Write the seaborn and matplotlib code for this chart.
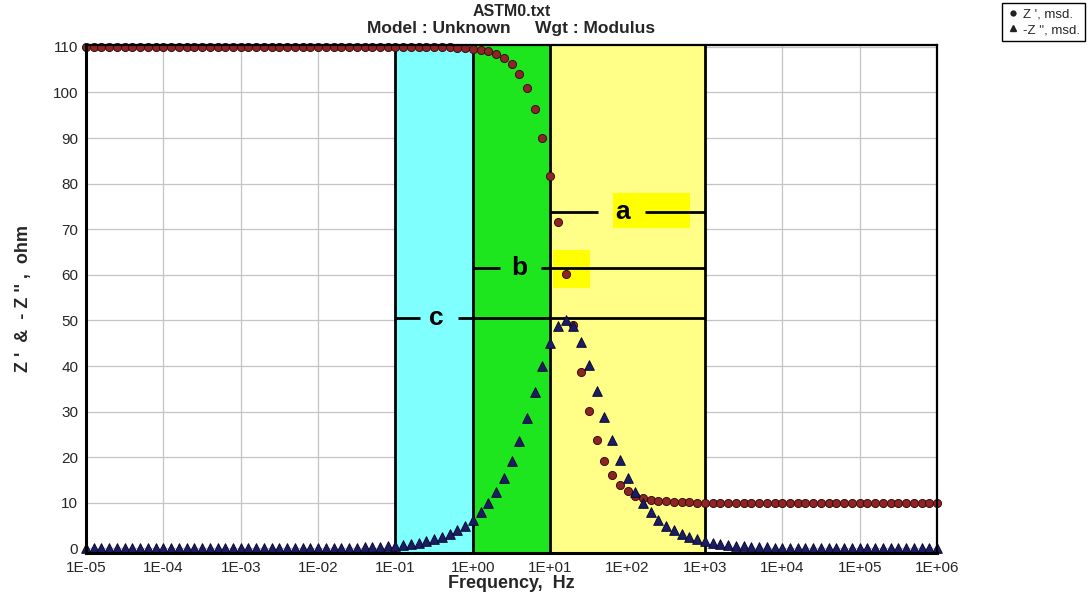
import numpy as np
import pandas as pd
import matplotlib
matplotlib.use('Agg')
import matplotlib.pyplot as plt
from matplotlib.lines import Line2D
from matplotlib.patches import Rectangle
import seaborn as sns

# --- data: 10 points per decade, 1E-05 .. 1E+06 Hz ---
LOG_FREQ = [
    -5.0, -4.9, -4.8, -4.7, -4.6, -4.5, -4.4, -4.3, -4.2, -4.1,
    -4.0, -3.9, -3.8, -3.7, -3.6, -3.5, -3.4, -3.3, -3.2, -3.1,
    -3.0, -2.9, -2.8, -2.7, -2.6, -2.5, -2.4, -2.3, -2.2, -2.1,
    -2.0, -1.9, -1.8, -1.7, -1.6, -1.5, -1.4, -1.3, -1.2, -1.1,
    -1.0, -0.9, -0.8, -0.7, -0.6, -0.5, -0.4, -0.3, -0.2, -0.1,
    0.0, 0.1, 0.2, 0.3, 0.4, 0.5, 0.6, 0.7, 0.8, 0.9,
    1.0, 1.1, 1.2, 1.3, 1.4, 1.5, 1.6, 1.7, 1.8, 1.9,
    2.0, 2.1, 2.2, 2.3, 2.4, 2.5, 2.6, 2.7, 2.8, 2.9,
    3.0, 3.1, 3.2, 3.3, 3.4, 3.5, 3.6, 3.7, 3.8, 3.9,
    4.0, 4.1, 4.2, 4.3, 4.4, 4.5, 4.6, 4.7, 4.8, 4.9,
    5.0, 5.1, 5.2, 5.3, 5.4, 5.5, 5.6, 5.7, 5.8, 5.9,
    6.0,
]
Z_REAL = [
    110.0, 110.0, 110.0, 110.0, 110.0, 110.0, 110.0, 110.0, 110.0, 110.0,
    110.0, 110.0, 110.0, 110.0, 110.0, 110.0, 110.0, 110.0, 110.0, 110.0,
    110.0, 110.0, 110.0, 110.0, 110.0, 110.0, 110.0, 110.0, 110.0, 110.0,
    110.0, 110.0, 110.0, 110.0, 110.0, 110.0, 110.0, 110.0, 110.0, 110.0,
    110.0, 110.0, 110.0, 110.0, 110.0, 110.0, 109.9, 109.9, 109.8, 109.8,
    109.6, 109.4, 109.0, 108.5, 107.6, 106.2, 104.1, 101.0, 96.4, 90.1,
    81.7, 71.5, 60.2, 48.9, 38.7, 30.2, 23.8, 19.2, 16.0, 13.9,
    12.5, 11.6, 11.0, 10.6, 10.4, 10.3, 10.2, 10.1, 10.1, 10.0,
    10.0, 10.0, 10.0, 10.0, 10.0, 10.0, 10.0, 10.0, 10.0, 10.0,
    10.0, 10.0, 10.0, 10.0, 10.0, 10.0, 10.0, 10.0, 10.0, 10.0,
    10.0, 10.0, 10.0, 10.0, 10.0, 10.0, 10.0, 10.0, 10.0, 10.0,
    10.0,
]
Z_IMAG_NEG = [
    0.0, 0.0, 0.0, 0.0, 0.0, 0.0, 0.0, 0.0, 0.0, 0.0,
    0.0, 0.0, 0.0, 0.0, 0.0, 0.0, 0.0, 0.0, 0.0, 0.0,
    0.0, 0.0, 0.0, 0.0, 0.0, 0.0, 0.0, 0.0, 0.0, 0.0,
    0.1, 0.1, 0.1, 0.1, 0.2, 0.2, 0.3, 0.3, 0.4, 0.5,
    0.6, 0.8, 1.0, 1.3, 1.6, 2.0, 2.5, 3.1, 4.0, 5.0,
    6.3, 7.9, 9.9, 12.3, 15.4, 19.1, 23.5, 28.7, 34.3, 40.0,
    45.1, 48.7, 50.0, 48.8, 45.2, 40.2, 34.5, 28.9, 23.7, 19.3,
    15.5, 12.4, 9.9, 7.9, 6.3, 5.0, 4.0, 3.2, 2.5, 2.0,
    1.6, 1.3, 1.0, 0.8, 0.6, 0.5, 0.4, 0.3, 0.3, 0.2,
    0.2, 0.1, 0.1, 0.1, 0.0, 0.0, 0.0, 0.0, 0.0, 0.0,
    0.0, 0.0, 0.0, 0.0, 0.0, 0.0, 0.0, 0.0, 0.0, 0.0,
    0.0,
]
SERIES_NAMES = ["Z ', msd.", "-Z '', msd."]

# shaded frequency bands (Hz)
BAND_EDGES = [0.1, 1.0, 10.0, 1000.0]
BAND_COLORS = ['#80FFFF', '#1EE61E', '#FFFF88']

# a / b / c spans: line from start to end at a level, broken around the letter
SPAN_LABELS = ['a', 'b', 'c']
SPAN_START = [10.0, 1.0, 0.1]
SPAN_END = [1000.0, 1000.0, 1000.0]
SPAN_LEVEL = [73.8, 61.5, 50.6]
SPAN_TEXT_AT = [85.0, 3.95, 0.34]
SPAN_GAP = [(41.5, 168.0), (2.25, 7.6), (0.207, 0.644)]

# bright yellow patches inside the yellow band: (f0, f1, y0, y1)
PATCHES = [(64.9, 643.0, 70.3, 77.9), (10.9, 32.7, 57.1, 65.5)]

X_TICKS = [1e-5, 1e-4, 1e-3, 1e-2, 1e-1, 1e0, 1e1, 1e2, 1e3, 1e4, 1e5, 1e6]
X_TICK_LABELS = ['1E-05', '1E-04', '1E-03', '1E-02', '1E-01', '1E+00',
                 '1E+01', '1E+02', '1E+03', '1E+04', '1E+05', '1E+06']
Y_TICKS = [0, 10, 20, 30, 40, 50, 60, 70, 80, 90, 100, 110]

TITLE_FILE = 'ASTM0.txt'
TITLE_MODEL = 'Model : Unknown     Wgt : Modulus'

# --- style ---
sns.set_style('white')
plt.rcParams['font.family'] = ['Liberation Sans', 'DejaVu Sans']

freq = 10 ** np.array(LOG_FREQ)
df = pd.DataFrame({
    'freq': np.concatenate([freq, freq]),
    'ohm': Z_REAL + Z_IMAG_NEG,
    'series': [SERIES_NAMES[0]] * len(freq) + [SERIES_NAMES[1]] * len(freq),
})

W, H = 1089, 595
fig = plt.figure(figsize=(W / 100, H / 100), dpi=100)
ax = fig.add_axes([86 / W, 1 - 553 / H, 851 / W, 508 / H])
ax.set_xscale('log')
ax.set_xlim(1e-5, 1e6)
ax.set_ylim(-1.0, 110.4)

# grid
ax.set_axisbelow(True)
ax.grid(True, which='major', color='#C4C4C4', lw=0.9)

# bands
for i, col in enumerate(BAND_COLORS):
    ax.axvspan(BAND_EDGES[i], BAND_EDGES[i + 1], color=col, lw=0, zorder=1)
for f0, f1, y0, y1 in PATCHES:
    ax.add_patch(Rectangle((f0, y0), f1 - f0, y1 - y0, color='#FFFF00', lw=0, zorder=1.5))
for e in BAND_EDGES:
    ax.axvline(e, color='black', lw=2, zorder=2)

# spans a/b/c
for lab, s0, s1, lev, tx, gap in zip(SPAN_LABELS, SPAN_START, SPAN_END,
                                     SPAN_LEVEL, SPAN_TEXT_AT, SPAN_GAP):
    ax.hlines(lev, s0, gap[0], color='black', lw=2, zorder=3)
    ax.hlines(lev, gap[1], s1, color='black', lw=2, zorder=3)
    ax.text(tx, lev, lab, ha='center', va='center', fontsize=19,
            fontweight='bold', color='black', zorder=4)

# data
sns.scatterplot(data=df[df['series'] == SERIES_NAMES[0]], x='freq', y='ohm',
                marker='o', s=34, color='#8E2424', edgecolor='#3A0E0E',
                linewidth=0.7, ax=ax, legend=False, zorder=6, clip_on=False)
sns.scatterplot(data=df[df['series'] == SERIES_NAMES[1]], x='freq', y='ohm',
                marker='^', s=48, color='#1C1C66', edgecolor='#0A0A30',
                linewidth=0.7, ax=ax, legend=False, zorder=7, clip_on=False)

# axes cosmetics
ax.set_xticks(X_TICKS)
ax.set_xticklabels(X_TICK_LABELS)
ax.set_yticks(Y_TICKS)
ax.tick_params(axis='both', which='major', direction='out', length=4, width=1,
               labelsize=11, pad=1.5, color='#444444')
ax.tick_params(axis='x', which='minor', direction='out', length=2.5, width=0.8,
               color='#666666', bottom=True)
for side in ['left', 'bottom']:
    ax.spines[side].set_linewidth(2.2)
for side in ['top', 'right']:
    ax.spines[side].set_linewidth(1.6)
for sp in ax.spines.values():
    sp.set_color('black')
    sp.set_zorder(8)

ax.set_xlabel('Frequency,  Hz', fontsize=13, fontweight='bold', labelpad=0)
ax.set_ylabel("Z '  &  - Z '' ,  ohm", fontsize=13, fontweight='bold', labelpad=15)

cx = (86 + 851 / 2) / W
fig.text(cx, 1 - 11 / H, TITLE_FILE, ha='center', va='center',
         fontsize=11.5, fontweight='bold')
fig.text(cx, 1 - 29 / H, TITLE_MODEL, ha='center', va='center',
         fontsize=12.5, fontweight='bold')

handles = [
    Line2D([], [], marker='o', ls='', color='#222222', markersize=3.5),
    Line2D([], [], marker='^', ls='', color='#222222', markersize=4),
]
fig.legend(handles, SERIES_NAMES, loc='upper right',
           bbox_to_anchor=(1085 / W, 1 - 3 / H), fontsize=9.5,
           frameon=True, fancybox=False, edgecolor='black', framealpha=1,
           handletextpad=0.2, handlelength=1.0, borderpad=0.4, labelspacing=0.25,
           borderaxespad=0)

fig.savefig('out.png', dpi=100)
